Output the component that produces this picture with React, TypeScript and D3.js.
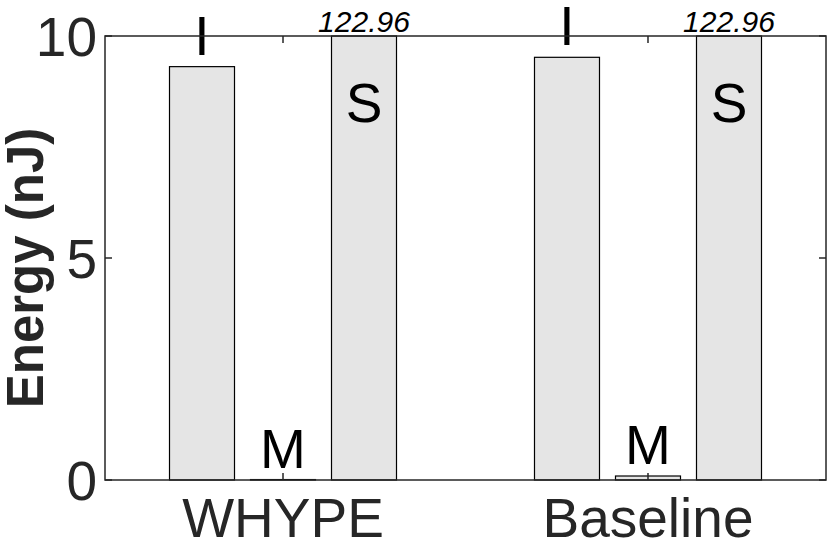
import React, { useEffect, useRef } from 'react';
import * as d3 from 'd3';

// data
const groups = ['WHYPE', 'Baseline'];
const components = ['I', 'M', 'S'];
const energyI = [9.31, 9.52];
const energyM = [0.01, 0.09];
const energyS = [122.96, 122.96];
const yTicks = [0, 5, 10];

const App = () => {
  const svgRef = useRef<SVGSVGElement | null>(null);

  useEffect(() => {
    if (!svgRef.current) return;
    d3.select(svgRef.current).selectAll('*').remove();

    const width = 831;
    const height = 542;
    const margin = { top: 36, right: 5, bottom: 62, left: 105 };
    const font = '"Liberation Sans", Arial, Helvetica, sans-serif';
    const axisColor = '#262626';
    const yMax = 10;

    const svg = d3.select(svgRef.current)
      .attr('width', width)
      .attr('height', height)
      .style('background', '#fff');

    const x = d3.scalePoint<string>()
      .domain(groups)
      .range([margin.left, width - margin.right])
      .padding(0.4877);

    const sub = d3.scaleBand<string>()
      .domain(components)
      .range([-121.5, 121.5])
      .paddingInner(16 / 81)
      .paddingOuter(8 / 81);

    const y = d3.scaleLinear()
      .domain([0, yMax])
      .range([height - margin.bottom, margin.top]);

    const rows = groups.flatMap((g, i) => [
      { group: g, comp: 'I', value: energyI[i] },
      { group: g, comp: 'M', value: energyM[i] },
      { group: g, comp: 'S', value: energyS[i] },
    ]);

    // Bars (clipped at the y limit)
    rows.forEach((d) => {
      const x0 = (x(d.group) as number) + (sub(d.comp) as number);
      const v = Math.min(d.value, yMax);
      svg.append('rect')
        .attr('x', x0)
        .attr('y', y(v))
        .attr('width', sub.bandwidth())
        .attr('height', y(0) - y(v))
        .attr('fill', '#e5e5e5')
        .attr('stroke', '#000')
        .attr('stroke-width', 1.2);
    });

    // Bar labels
    rows.forEach((d) => {
      const cx = (x(d.group) as number) + (sub(d.comp) as number) + sub.bandwidth() / 2;
      if (d.value > yMax) {
        svg.append('text')
          .attr('x', cx)
          .attr('y', y(yMax) - 4)
          .attr('text-anchor', 'middle')
          .attr('font-family', font)
          .attr('font-style', 'italic')
          .attr('font-size', '30px')
          .attr('fill', '#000')
          .text(d.value.toFixed(2));
        svg.append('text')
          .attr('x', cx)
          .attr('y', y(yMax) + 86)
          .attr('text-anchor', 'middle')
          .attr('font-family', font)
          .attr('font-size', '55px')
          .attr('fill', '#000')
          .text(d.comp);
      } else {
        svg.append('text')
          .attr('x', cx)
          .attr('y', y(d.value) - 12)
          .attr('text-anchor', 'middle')
          .attr('font-family', font)
          .attr('font-size', '55px')
          .attr('fill', '#000')
          .text(d.comp);
      }
    });

    // Axes box
    const x1 = margin.left;
    const x2 = width - margin.right;
    svg.append('rect')
      .attr('x', x1)
      .attr('y', y(yMax))
      .attr('width', x2 - x1)
      .attr('height', y(0) - y(yMax))
      .attr('fill', 'none')
      .attr('stroke', axisColor)
      .attr('stroke-width', 1.5);

    // y ticks (both sides, inward)
    yTicks.forEach((t) => {
      svg.append('line')
        .attr('x1', x1).attr('x2', x1 + 7)
        .attr('y1', y(t)).attr('y2', y(t))
        .attr('stroke', axisColor).attr('stroke-width', 1.5);
      svg.append('line')
        .attr('x1', x2).attr('x2', x2 - 7)
        .attr('y1', y(t)).attr('y2', y(t))
        .attr('stroke', axisColor).attr('stroke-width', 1.5);
      svg.append('text')
        .attr('x', 97)
        .attr('y', y(t) + 20)
        .attr('text-anchor', 'end')
        .attr('font-family', font)
        .attr('font-size', '55px')
        .attr('fill', axisColor)
        .text(t);
    });

    // x ticks (top and bottom, inward)
    groups.forEach((g) => {
      const cx = x(g) as number;
      svg.append('line')
        .attr('x1', cx).attr('x2', cx)
        .attr('y1', y(0)).attr('y2', y(0) - 7)
        .attr('stroke', axisColor).attr('stroke-width', 1.5);
      svg.append('line')
        .attr('x1', cx).attr('x2', cx)
        .attr('y1', y(yMax)).attr('y2', y(yMax) + 7)
        .attr('stroke', axisColor).attr('stroke-width', 1.5);
      svg.append('text')
        .attr('x', cx)
        .attr('y', 537)
        .attr('text-anchor', 'middle')
        .attr('font-family', font)
        .attr('font-size', '55px')
        .attr('fill', axisColor)
        .text(g);
    });

    // y label
    svg.append('text')
      .attr('transform', `translate(43, ${(y(0) + y(yMax)) / 2 + 10}) rotate(-90)`)
      .attr('text-anchor', 'middle')
      .attr('font-family', font)
      .attr('font-weight', 'bold')
      .attr('font-size', '51px')
      .attr('fill', axisColor)
      .text('Energy (nJ)');
  }, []);

  return (
    <div>
      <svg ref={svgRef} style={{ position: 'absolute', left: 0, top: 0 }}></svg>
    </div>
  );
};

export default App;
